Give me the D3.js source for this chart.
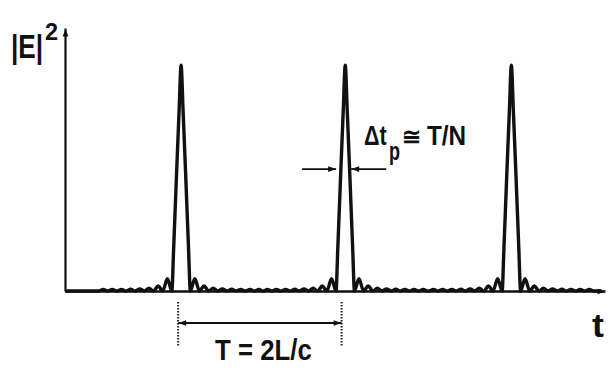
<!DOCTYPE html>
<html>
<head>
<meta charset="utf-8">
<script src="https://cdn.jsdelivr.net/npm/d3@7"></script>
<style>
  body { margin: 0; background: #fff; }
  text { font-family: "Liberation Sans", Arial, sans-serif; font-weight: 700; fill: #111; }
</style>
</head>
<body>
<div id="chart"></div>
<script>
// pulse centres, in units of the round-trip time T
const peakTimes = [0.703, 1.697, 2.703];
// one pulse profile (right half, mirrored for left half): offset from centre / |E|^2
const lobeOffsets = [0, 0.012, 0.028, 0.045, 0.056, 0.083, 0.111, 0.139, 0.167, 0.194, 0.222, 0.25, 0.278, 0.306, 0.333, 0.361, 0.389, 0.417, 0.444, 0.472, 0.5];
const lobeValues  = [1, 0.80, 0.51, 0.19, 0, 0.054, 0, 0.022, 0, 0.012, 0, 0.009, 0, 0.008, 0, 0.007, 0, 0.007, 0, 0.007, 0];
// T = 2L/c marker ends, pulse width arrows (level, tips, tails)
const periodMarks = [0.685, 1.675];
const widthLevel = 0.54;
const widthTips = [1.642, 1.733];
const widthTails = [1.436, 1.945];

const W = 613, H = 370;
const margin = { top: 28, right: 8, bottom: 80, left: 65 };

const svg = d3.select('#chart').append('svg')
  .attr('width', W).attr('height', H);

const xScale = d3.scaleLinear().domain([0, 3.27]).range([margin.left, 605]);
const yScale = d3.scaleLinear().domain([0, 1.165]).range([291, margin.top]);

const defs = svg.append('defs');
defs.append('marker')
  .attr('id', 'arrow')
  .attr('viewBox', '0 -5 10 10')
  .attr('refX', 10).attr('refY', 0)
  .attr('markerUnits', 'userSpaceOnUse')
  .attr('markerWidth', 11).attr('markerHeight', 8)
  .attr('orient', 'auto-start-reverse')
  .append('path')
  .attr('d', 'M0,-3.5L10,0L0,3.5Z')
  .attr('fill', '#111');

// build the pulse train
let points = [{ t: 0, v: 0 }];
peakTimes.forEach(c => {
  for (let i = lobeOffsets.length - 1; i > 0; i--) points.push({ t: c - lobeOffsets[i], v: lobeValues[i] });
  lobeOffsets.forEach((o, i) => points.push({ t: c + o, v: lobeValues[i] }));
});
points.push({ t: 3.25, v: 0 });
points.sort((a, b) => a.t - b.t);
points = points.filter((d, i) => i === 0 || d.t - points[i - 1].t > 1e-6);

// axes
const xAxis = svg.append('g')
  .attr('transform', `translate(0, ${yScale(0)})`)
  .call(d3.axisBottom(xScale).tickValues([]).tickSizeOuter(0));
xAxis.select('.domain')
  .attr('stroke', '#111').attr('stroke-width', 2.4)
  .attr('marker-end', 'url(#arrow)');

const yAxis = svg.append('g')
  .attr('transform', `translate(${xScale(0)}, 0)`)
  .call(d3.axisLeft(yScale).tickValues([]).tickSizeOuter(0));
yAxis.select('.domain')
  .attr('stroke', '#111').attr('stroke-width', 2.2)
  .attr('marker-end', 'url(#arrow)');

const line = d3.line()
  .curve(d3.curveMonotoneX)
  .x(d => xScale(d.t))
  .y(d => yScale(d.v));

svg.append('path')
  .datum(points)
  .attr('d', line)
  .attr('fill', 'none')
  .attr('stroke', '#111')
  .attr('stroke-width', 3.4)
  .attr('stroke-linejoin', 'round');

// T = 2L/c dimension
svg.selectAll('.tick-mark')
  .data(periodMarks)
  .enter().append('line')
  .attr('class', 'tick-mark')
  .attr('x1', d => xScale(d)).attr('x2', d => xScale(d))
  .attr('y1', 302).attr('y2', 346)
  .attr('stroke', '#222').attr('stroke-width', 2)
  .attr('stroke-dasharray', '1.5,1.5');

svg.append('line')
  .attr('x1', xScale(periodMarks[0])).attr('x2', xScale(periodMarks[1]))
  .attr('y1', 323).attr('y2', 323)
  .attr('stroke', '#111').attr('stroke-width', 1.8)
  .attr('marker-start', 'url(#arrow)')
  .attr('marker-end', 'url(#arrow)');

// pulse width arrows
widthTips.forEach((tip, i) => {
  svg.append('line')
    .attr('x1', xScale(widthTails[i])).attr('x2', xScale(tip))
    .attr('y1', yScale(widthLevel)).attr('y2', yScale(widthLevel))
    .attr('stroke', '#111').attr('stroke-width', 1.8)
    .attr('marker-end', 'url(#arrow)');
});

// condensed label: place at (x, y), squeeze horizontally by sx
function label(txt, x, y, size, sx) {
  return svg.append('text')
    .attr('transform', `translate(${x}, ${y}) scale(${sx}, 1)`)
    .attr('font-size', size)
    .text(txt);
}

label('|E|', 11, 58, 34, 0.77);
label('2', 45, 40, 24, 0.98);

label('Δt', 364, 145, 27, 0.80);
label('p', 389, 160, 25, 0.72);
label('≅', 402, 145, 24, 0.95);
label('T/N', 427, 145, 27, 0.90);

label('T = 2L/c', 215, 360, 30, 0.86);
label('t', 592, 337, 34, 1.05);
</script>
</body>
</html>
